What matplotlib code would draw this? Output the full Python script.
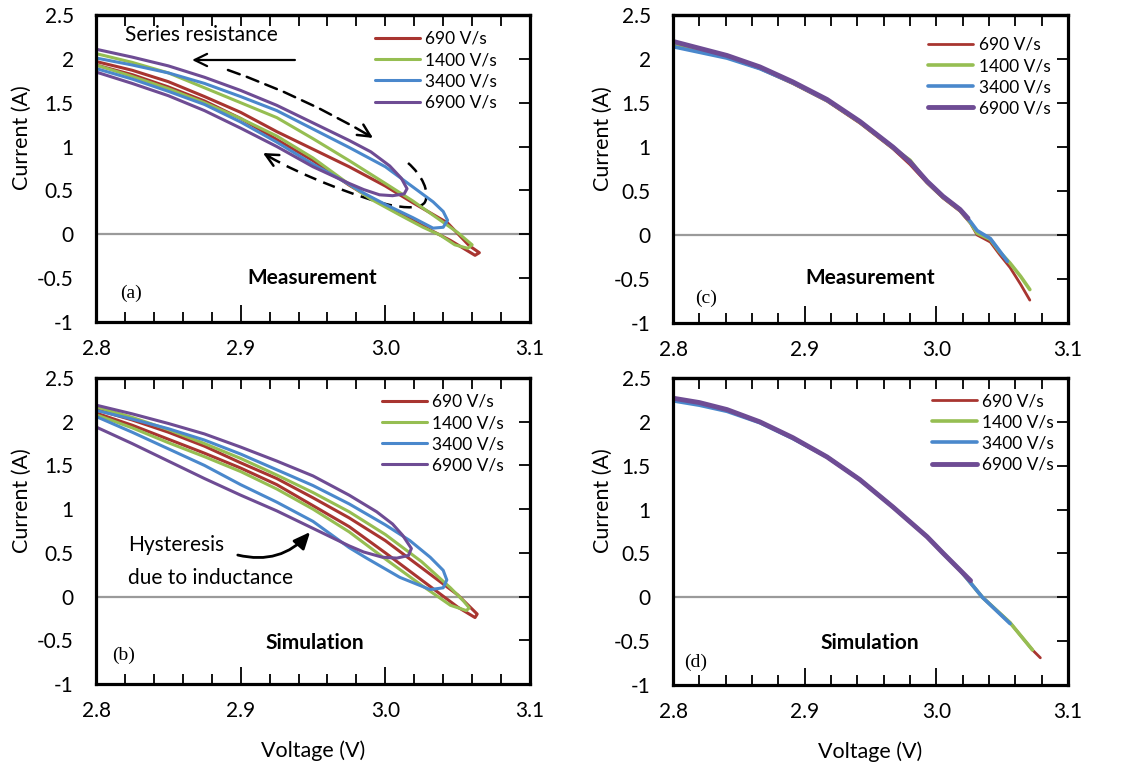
import matplotlib
matplotlib.use('Agg')
import matplotlib.pyplot as plt
from matplotlib.ticker import MultipleLocator, FuncFormatter, FormatStrFormatter
from matplotlib.path import Path
from matplotlib.patches import PathPatch

plt.rcParams['font.family'] = ['Lato', 'DejaVu Sans']

rates = ['690 V/s', '1400 V/s', '3400 V/s', '6900 V/s']
colors = ['#A83530', '#96BE52', '#4A88CC', '#6E4C94']

# ---- (a) measurement: forward sweep then return sweep ----
a690_v = [2.800, 2.825, 2.850, 2.875, 2.900, 2.925, 2.950, 2.975, 3.000, 3.019, 3.043, 3.058, 3.065,
          3.062, 3.045, 3.031, 3.010, 2.985, 2.975, 2.950, 2.925, 2.900, 2.875, 2.850, 2.825, 2.800]
a690_i = [1.97, 1.87, 1.74, 1.57, 1.39, 1.17, 0.97, 0.77, 0.55, 0.36, 0.13, -0.13, -0.21,
          -0.24, -0.07, 0.05, 0.24, 0.46, 0.56, 0.84, 1.08, 1.32, 1.52, 1.68, 1.82, 1.93]
a1400_v = [2.800, 2.825, 2.850, 2.875, 2.900, 2.925, 2.950, 2.975, 3.000, 3.019, 3.038, 3.050, 3.060,
           3.057, 3.048, 3.038, 3.026, 3.010, 2.990, 2.975, 2.950, 2.925, 2.900, 2.875, 2.850, 2.825,
           2.800]
a1400_i = [2.06, 1.96, 1.84, 1.67, 1.50, 1.33, 1.09, 0.84, 0.58, 0.38, 0.16, 0.02, -0.12,
           -0.16, -0.12, -0.01, 0.08, 0.22, 0.40, 0.57, 0.87, 1.12, 1.32, 1.50, 1.66, 1.80, 1.93]
a3400_v = [2.800, 2.825, 2.850, 2.875, 2.900, 2.925, 2.950, 2.975, 3.000, 3.019, 3.033, 3.040, 3.043,
           3.040, 3.033, 3.019, 3.000, 2.985, 2.975, 2.950, 2.925, 2.900, 2.875, 2.850, 2.825, 2.800]
a3400_i = [2.01, 1.93, 1.84, 1.72, 1.57, 1.41, 1.20, 0.99, 0.77, 0.54, 0.37, 0.26, 0.16,
           0.08, 0.07, 0.19, 0.34, 0.47, 0.57, 0.80, 1.05, 1.28, 1.48, 1.63, 1.77, 1.89]
a6900_v = [2.800, 2.825, 2.850, 2.875, 2.900, 2.925, 2.950, 2.975, 2.990, 3.003, 3.011, 3.015,
           3.013, 3.005, 2.996, 2.985, 2.975, 2.950, 2.925, 2.900, 2.875, 2.850, 2.825, 2.800]
a6900_i = [2.11, 2.02, 1.92, 1.79, 1.64, 1.47, 1.27, 1.07, 0.94, 0.78, 0.64, 0.52,
           0.46, 0.44, 0.45, 0.51, 0.58, 0.77, 1.00, 1.21, 1.41, 1.58, 1.72, 1.85]

# ---- (b) simulation ----
b690_v = [2.800, 2.825, 2.850, 2.875, 2.900, 2.925, 2.950, 2.975, 3.000, 3.025, 3.050, 3.0635,
          3.062, 3.050, 3.025, 3.000, 2.975, 2.950, 2.925, 2.900, 2.875, 2.850, 2.825, 2.800]
b690_i = [2.14, 2.02, 1.88, 1.72, 1.53, 1.35, 1.13, 0.90, 0.64, 0.33, 0.02, -0.20,
          -0.24, -0.12, 0.19, 0.50, 0.80, 1.04, 1.28, 1.47, 1.64, 1.80, 1.96, 2.10]
b1400_v = [2.800, 2.825, 2.850, 2.875, 2.900, 2.925, 2.950, 2.975, 3.000, 3.025, 3.045, 3.054, 3.058,
           3.056, 3.045, 3.025, 3.000, 2.975, 2.950, 2.925, 2.900, 2.875, 2.850, 2.825, 2.800]
b1400_i = [2.17, 2.05, 1.91, 1.75, 1.58, 1.39, 1.19, 0.97, 0.71, 0.40, 0.10, -0.05, -0.13,
           -0.16, -0.10, 0.13, 0.43, 0.74, 1.00, 1.23, 1.43, 1.60, 1.76, 1.93, 2.08]
b3400_v = [2.800, 2.825, 2.850, 2.875, 2.900, 2.925, 2.950, 2.975, 3.000, 3.017, 3.031, 3.040, 3.0425,
           3.040, 3.031, 3.010, 2.987, 2.975, 2.950, 2.925, 2.900, 2.875, 2.850, 2.825, 2.800]
b3400_i = [2.13, 2.03, 1.92, 1.79, 1.63, 1.45, 1.27, 1.06, 0.82, 0.64, 0.45, 0.30, 0.19,
           0.10, 0.08, 0.22, 0.44, 0.56, 0.86, 1.08, 1.28, 1.50, 1.69, 1.88, 2.06]
b6900_v = [2.800, 2.825, 2.850, 2.875, 2.900, 2.925, 2.950, 2.975, 2.994, 3.005, 3.012, 3.018,
           3.016, 3.008, 2.998, 2.985, 2.975, 2.950, 2.925, 2.900, 2.875, 2.850, 2.825, 2.800]
b6900_i = [2.19, 2.09, 1.98, 1.86, 1.71, 1.55, 1.38, 1.16, 0.97, 0.83, 0.70, 0.55,
           0.47, 0.44, 0.45, 0.51, 0.58, 0.78, 0.98, 1.16, 1.35, 1.55, 1.75, 1.94]

# ---- (c) measurement, corrected ----
c690_v = [2.800, 2.841, 2.866, 2.891, 2.917, 2.942, 2.967, 2.980, 2.993, 3.005, 3.018, 3.026,
          3.031, 3.041, 3.048, 3.056, 3.064, 3.071]
c690_i = [2.17, 2.02, 1.89, 1.72, 1.52, 1.27, 0.98, 0.80, 0.59, 0.42, 0.27, 0.13,
          0.00, -0.08, -0.22, -0.37, -0.56, -0.74]
c1400_v = [2.800, 2.841, 2.866, 2.891, 2.917, 2.942, 2.967, 2.980, 2.993, 3.005, 3.018, 3.026,
           3.031, 3.041, 3.048, 3.056, 3.064, 3.071]
c1400_i = [2.18, 2.02, 1.90, 1.73, 1.53, 1.28, 0.99, 0.85, 0.60, 0.43, 0.28, 0.14,
           0.02, -0.05, -0.19, -0.32, -0.47, -0.62]
c3400_v = [2.800, 2.841, 2.866, 2.891, 2.917, 2.942, 2.967, 2.980, 2.993, 3.005, 3.018, 3.026,
           3.031, 3.041, 3.048, 3.054]
c3400_i = [2.14, 2.01, 1.89, 1.73, 1.53, 1.29, 1.00, 0.83, 0.61, 0.44, 0.29, 0.15,
           0.05, -0.04, -0.18, -0.30]
c6900_v = [2.800, 2.841, 2.866, 2.891, 2.917, 2.942, 2.967, 2.980, 2.993, 3.005, 3.018, 3.024]
c6900_i = [2.20, 2.04, 1.91, 1.74, 1.54, 1.29, 1.00, 0.83, 0.61, 0.44, 0.29, 0.19]

# ---- (d) simulation, corrected ----
d690_v = [2.800, 2.820, 2.841, 2.866, 2.891, 2.917, 2.942, 2.967, 2.980, 2.993, 3.005, 3.018,
          3.035, 3.056, 3.073, 3.079]
d690_i = [2.26, 2.21, 2.13, 2.00, 1.815, 1.60, 1.34, 1.03, 0.86, 0.69, 0.505, 0.31,
          0.00, -0.29, -0.60, -0.69]
d1400_v = [2.800, 2.820, 2.841, 2.866, 2.891, 2.917, 2.942, 2.967, 2.980, 2.993, 3.005, 3.018,
           3.035, 3.056, 3.073]
d1400_i = [2.26, 2.21, 2.13, 2.00, 1.815, 1.60, 1.34, 1.03, 0.86, 0.69, 0.505, 0.31,
           0.00, -0.29, -0.60]
d3400_v = [2.800, 2.820, 2.841, 2.866, 2.891, 2.917, 2.942, 2.967, 2.980, 2.993, 3.005, 3.018,
           3.035, 3.056]
d3400_i = [2.24, 2.19, 2.12, 1.99, 1.81, 1.60, 1.34, 1.03, 0.86, 0.69, 0.505, 0.31,
           0.00, -0.30]
d6900_v = [2.800, 2.820, 2.841, 2.866, 2.891, 2.917, 2.942, 2.967, 2.980, 2.993, 3.005, 3.018,
           3.026]
d6900_i = [2.27, 2.22, 2.14, 2.00, 1.82, 1.60, 1.34, 1.03, 0.86, 0.69, 0.505, 0.31, 0.19]

panels = {
    'a': [(a690_v, a690_i), (a1400_v, a1400_i), (a3400_v, a3400_i), (a6900_v, a6900_i)],
    'b': [(b690_v, b690_i), (b1400_v, b1400_i), (b3400_v, b3400_i), (b6900_v, b6900_i)],
    'c': [(c690_v, c690_i), (c1400_v, c1400_i), (c3400_v, c3400_i), (c6900_v, c6900_i)],
    'd': [(d690_v, d690_i), (d1400_v, d1400_i), (d3400_v, d3400_i), (d6900_v, d6900_i)],
}

W, H = 1133, 764
fig = plt.figure(figsize=(W / 100, H / 100), dpi=100)


def px_axes(l, t, r, b):
    return fig.add_axes([l / W, 1 - b / H, (r - l) / W, (b - t) / H])


axs = {
    'a': px_axes(96, 15, 530, 322),
    'b': px_axes(96, 378, 530, 684),
    'c': px_axes(673, 15, 1068, 323),
    'd': px_axes(673, 378, 1068, 685),
}

panel_text = {'a': 'Measurement', 'b': 'Simulation', 'c': 'Measurement', 'd': 'Simulation'}
text_pos = {'a': (0.498, 0.143), 'b': (0.505, 0.134), 'c': (0.499, 0.146), 'd': (0.499, 0.137)}
letter_pos = {'a': (0.055, 0.094), 'b': (0.037, 0.095), 'c': (0.056, 0.081), 'd': (0.028, 0.075)}
leg_pos = {'a': (0.643, 0.948), 'b': (0.659, 0.948), 'c': (0.646, 0.929), 'd': (0.656, 0.951)}
ylab_x = {'a': -0.147, 'b': -0.147, 'c': -0.152, 'd': -0.152}


def style_axes(ax, key):
    ax.set_xlim(2.8, 3.1)
    ax.set_ylim(-1, 2.5)
    ax.axhline(0, color='#9a9a9a', lw=1.6, zorder=1)
    for s in ax.spines.values():
        s.set_linewidth(2.3)
        s.set_color('black')
    ax.xaxis.set_major_locator(MultipleLocator(0.1))
    ax.xaxis.set_minor_locator(MultipleLocator(0.02))
    ax.xaxis.set_major_formatter(FormatStrFormatter('%.1f'))
    ax.yaxis.set_major_locator(MultipleLocator(0.5))
    ax.yaxis.set_major_formatter(FuncFormatter(lambda v, p: '%g' % v))
    ax.tick_params(axis='x', which='major', direction='in', length=12, width=1.3,
                   top=False, labelsize=15, pad=12)
    ax.tick_params(axis='x', which='minor', direction='in', length=7, width=1.3, top=False)
    ax.tick_params(axis='y', which='major', direction='in', length=8, width=1.3,
                   left=False, right=True, labelleft=True, labelsize=15, pad=16)
    sec = ax.secondary_xaxis('top')
    sec.xaxis.set_major_locator(MultipleLocator(0.02))
    sec.tick_params(direction='in', length=8, width=1.3, labeltop=False)
    sec.spines['top'].set_linewidth(2.3)
    ax.set_ylabel('Current (A)', fontsize=15.5)
    ax.yaxis.set_label_coords(ylab_x[key], 0.6)
    if key in ('b', 'd'):
        ax.set_xlabel('Voltage (V)', fontsize=15.5, labelpad=14)
    ax.text(*text_pos[key], panel_text[key], transform=ax.transAxes, ha='center', va='center',
            fontsize=15, fontweight='bold')
    ax.text(*letter_pos[key], '(%s)' % key, transform=ax.transAxes, ha='left', va='center',
            fontsize=14, family='Liberation Serif')


for key, ax in axs.items():
    style_axes(ax, key)
    thick = [2.2, 2.2, 2.2, 2.2] if key in ('a', 'b') else [2.0, 2.6, 2.6, 3.5]
    for (v, i), c, lab, lw in zip(panels[key], colors, rates, thick):
        ax.plot(v, i, color=c, lw=lw, label=lab, solid_joinstyle='round', solid_capstyle='round')
    ax.legend(loc='upper left', bbox_to_anchor=leg_pos[key], frameon=False, fontsize=12.5,
              handlelength=2.6, handletextpad=0.3, labelspacing=0.3, borderpad=0,
              borderaxespad=0)

# annotations in (a)
ax = axs['a']
head = '->,head_length=0.45,head_width=0.22'
ax.text(2.820, 2.272, 'Series resistance', fontsize=15, ha='left', va='center')
ax.annotate('', xy=(2.8664, 1.987), xytext=(2.9375, 1.987),
            arrowprops=dict(arrowstyle=head, lw=1.6, color='k', mutation_scale=20,
                            shrinkA=0, shrinkB=0))
ax.annotate('', xy=(2.9894, 1.120), xytext=(2.8912, 1.873),
            arrowprops=dict(arrowstyle='-', lw=1.8, color='k', linestyle=(0, (5, 3)),
                            connectionstyle='arc3,rad=-0.05', shrinkA=0, shrinkB=0))
ax.annotate('', xy=(2.9915, 1.098), xytext=(2.9870, 1.145),
            arrowprops=dict(arrowstyle=head, lw=1.8, color='k', mutation_scale=20,
                            shrinkA=0, shrinkB=0))
loop_pts = [(3.0157, 0.8127), (3.0253, 0.6758), (3.0309, 0.4820), (3.0274, 0.3680),
            (3.0247, 0.2882), (3.0136, 0.2996), (3.0032, 0.3338),
            (2.9825, 0.4136), (2.9410, 0.6758), (2.9189, 0.8925)]
loop_codes = [Path.MOVETO] + [Path.CURVE4] * 9
ax.add_patch(PathPatch(Path(loop_pts, loop_codes), fill=False, lw=1.8, color='k',
                       linestyle=(0, (5, 3))))
ax.annotate('', xy=(2.9154, 0.9267), xytext=(2.9200, 0.885),
            arrowprops=dict(arrowstyle=head, lw=1.8, color='k', mutation_scale=20,
                            shrinkA=0, shrinkB=0))

# annotation in (b)
ax = axs['b']
ax.text(2.822, 0.59, 'Hysteresis', fontsize=15, ha='left', va='center')
ax.text(2.822, 0.212, 'due to inductance', fontsize=15, ha='left', va='center')
ax.annotate('', xy=(2.948, 0.738), xytext=(2.898, 0.475),
            arrowprops=dict(arrowstyle='-|>,head_length=0.5,head_width=0.22', lw=2,
                            color='k', mutation_scale=20, shrinkA=0, shrinkB=0,
                            connectionstyle='arc3,rad=0.3'))

fig.savefig('out.png', dpi=100)
